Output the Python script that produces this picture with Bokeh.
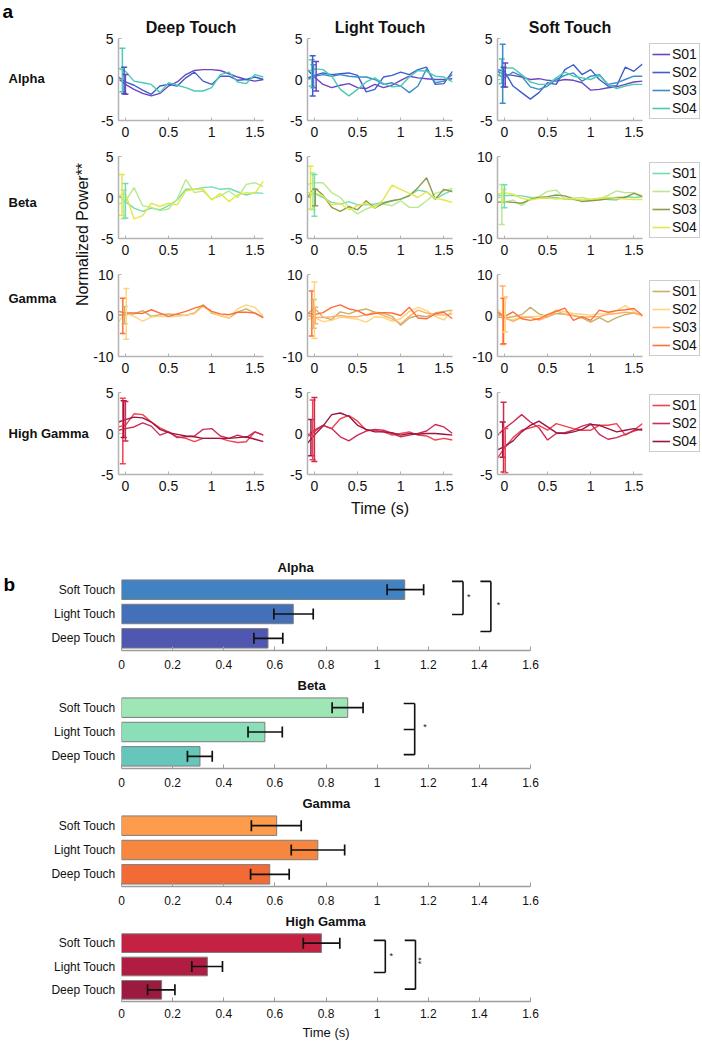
import math
from bokeh.plotting import figure
from bokeh.models import (Range1d, FixedTicker, NumeralTickFormatter, Label, Legend,
                          LegendItem, Whisker, TeeHead, ColumnDataSource)
from bokeh.layouts import row, column
from bokeh.core.properties import value
from bokeh.embed import file_html
from bokeh.resources import INLINE

# ---------------- data: panel a (normalized power traces) ----------------
T = [-0.08, 0.0, 0.1, 0.2, 0.3, 0.4, 0.5, 0.6, 0.7, 0.8, 0.9, 1.0, 1.1, 1.2, 1.3, 1.4, 1.5, 1.6]
x_ticks = [0, 0.5, 1, 1.5]

# Alpha
a_deep_s01 = [0.1, -0.6, -1.2, -1.7, -2.0, -1.7, -0.8, -0.3, 0.6, 1.1, 1.2, 1.2, 1.1, 0.7, 0.3, 0.0, -0.2, 0.0]
a_deep_s02 = [0.3, -0.3, -0.7, -1.3, -1.8, -0.8, -0.6, -0.8, 0.2, 0.9, -0.2, -0.6, 0.4, 0.4, -0.1, 0.0, 0.3, 0.0]
a_deep_s04 = [1.4, 1.0, -0.2, -0.4, -0.6, -1.6, -0.4, -0.7, -1.0, -1.4, -1.4, -1.0, 0.6, 0.9, -0.3, -0.5, 0.6, 0.3]
a_deep_err = [("S04", -0.035, -1.5, 3.8), ("S02", -0.015, -1.7, 1.5), ("S01", 0.0, -1.8, 0.6)]

a_light_s01 = [1.2, 0.3, -0.6, -1.0, -0.7, -0.5, -1.0, -1.1, -0.6, -1.0, -0.7, -0.1, 0.4, 0.2, 0.1, 0.0, 0.0, 0.1]
a_light_s02 = [0.2, 0.5, 0.8, 0.6, 0.7, 0.8, 0.5, -1.5, -1.2, 0.3, 0.5, 0.9, 0.6, 1.2, 1.5, -0.6, -0.5, 1.0]
a_light_s03 = [0.0, 0.4, 0.6, 0.4, 0.6, 0.4, 0.3, 0.3, 0.0, -0.6, -0.4, -0.8, -1.6, -0.8, 1.3, -0.4, -0.2, 0.6]
a_light_s04 = [1.0, 1.3, 1.2, 0.4, -1.2, -2.0, -1.2, -0.3, 0.2, -0.5, -0.9, -0.8, 0.3, 1.1, 1.0, 0.4, 0.3, -0.3]
a_light_err = [("S04", -0.03, -0.8, 2.4), ("S02", -0.02, -2.0, 2.9), ("S03", -0.01, -1.0, 1.8), ("S01", 0.02, -1.4, 2.2)]

a_soft_s01 = [1.0, 0.6, 0.5, 0.3, 0.0, 0.1, -0.1, -0.2, 0.0, -0.1, -0.4, -1.3, -1.2, -1.0, -0.9, -0.6, -0.3, -0.2]
a_soft_s02 = [1.2, 1.0, -0.8, -1.6, -2.4, -1.6, -0.4, -0.6, 1.2, 1.8, 0.6, 1.2, 0.0, -0.8, -0.8, 1.5, 1.0, 1.9]
a_soft_s03 = [0.6, 0.2, 0.9, 0.4, -0.9, -1.2, -0.8, 0.0, 0.5, 0.8, -0.2, 0.4, 0.6, -0.6, -0.4, 0.0, 0.4, 0.4]
a_soft_s04 = [0.4, 1.4, 1.4, 0.6, -0.3, -0.6, -0.6, 0.2, 0.9, 0.4, 0.2, 0.0, 0.5, -0.6, -1.1, -0.8, -0.6, -0.6]
a_soft_err = [("S04", -0.03, -0.5, 2.5), ("S03", -0.02, -2.9, 4.3), ("S02", -0.01, -0.9, 1.5), ("S01", 0.01, -0.9, 2.0)]

# Beta
b_deep_s01 = [0.3, -0.5, -1.3, -1.7, -1.3, -1.5, -1.0, -0.3, 1.0, 1.0, 1.2, 1.3, 1.0, 1.1, 0.7, 0.3, 0.6, 0.5]
b_deep_s02 = [-0.8, -0.5, 1.2, -1.0, -1.2, -1.6, -1.4, -0.2, 2.2, 0.6, 0.8, -0.2, 0.2, 0.8, 0.0, 1.6, 1.8, 1.3]
b_deep_s04 = [0.2, 0.5, -2.6, -2.2, -0.7, -1.1, -0.7, -0.9, 0.8, 1.0, 1.0, -0.3, 0.5, -0.5, 0.3, 0.6, 0.5, 2.0]
b_deep_err = [("S04", -0.04, -2.2, 2.8), ("S02", -0.02, -2.6, 0.9), ("S01", 0.0, -2.5, 1.7)]

b_light_s01 = [0.0, 0.5, 0.0, -0.6, -0.8, -0.5, -0.9, -0.9, -0.8, -0.6, -0.4, -0.2, 0.3, 0.9, 0.7, -0.2, 0.4, 0.9]
b_light_s02 = [1.6, 1.8, 1.8, 0.6, 0.0, -1.2, -2.0, -1.4, -1.0, -0.8, -1.0, -0.4, -1.2, -1.2, -0.4, 0.5, 0.8, 1.1]
b_light_s03 = [0.0, 1.2, 0.3, -1.2, -1.7, -1.1, -1.5, -0.4, -1.3, -0.7, -0.4, -0.2, 0.2, 1.2, 2.4, -0.2, 1.0, 0.7]
b_light_s04 = [0.6, 0.6, 0.2, -0.9, -0.7, -1.5, -1.0, -0.7, -1.3, -0.2, 1.5, 1.0, 0.5, 0.0, 0.7, -0.1, -0.3, -0.6]
b_light_err = [("S04", -0.045, -1.4, 3.8), ("S02", -0.02, -1.5, 3.0), ("S01", 0.0, -2.3, 2.8), ("S03", 0.01, -1.0, 1.0)]

b_soft_s01 = [0.5, 0.5, 0.5, 0.4, 0.0, 0.0, -0.2, 0.0, -0.4, -0.5, -0.8, -0.6, -0.2, -0.5, -0.6, 0.2, 0.0, 0.2]
b_soft_s02 = [-1.0, -1.2, -0.6, -2.0, -0.3, 0.2, 1.5, 1.8, -0.3, -0.2, 0.0, -0.5, -0.4, 0.5, 1.6, 1.2, 1.2, 0.4]
b_soft_s03 = [-1.2, -1.0, -1.2, -1.4, -0.5, 0.0, 0.2, 0.6, 0.4, -0.3, -1.0, -0.8, -0.6, -0.3, 0.0, 0.0, 1.0, 0.2]
b_soft_s04 = [0.8, 1.2, 0.8, -0.2, -0.6, -0.2, -0.1, -0.4, -0.2, -0.3, -0.6, -0.4, -0.2, 0.0, -0.2, -0.4, -0.5, -0.5]
b_soft_err = [("S02", -0.03, -6.6, 3.2), ("S04", -0.01, -1.0, 2.0), ("S01", 0.0, -2.5, 3.1)]

# Gamma
g_deep_s01 = [0.2, 0.2, 0.4, 1.2, -0.2, 0.2, 0.4, 0.2, 0.0, 0.6, 2.6, 0.6, 0.0, -0.6, 0.8, 1.6, 0.6, -0.4]
g_deep_s02 = [-1.5, 0.6, -0.2, -1.4, -0.4, -0.2, -0.3, -0.2, 0.1, 0.4, 2.2, 0.8, 0.0, -0.6, 1.6, 2.6, 2.0, -0.2]
g_deep_s04 = [1.0, 0.6, 0.6, 0.5, 1.4, 0.6, -0.2, 0.4, 1.0, 1.8, 2.4, 1.0, 0.4, 0.2, 0.8, 0.8, 0.6, -0.6]
g_deep_err = [("S04", -0.03, -4.4, 4.2), ("S01", -0.01, -2.0, 2.2), ("S02", 0.01, -5.8, 6.6)]

g_light_s01 = [0.5, 1.8, -0.4, -1.0, 0.9, 0.4, 1.2, 1.6, 0.8, 0.6, -0.2, -2.4, -0.6, 0.0, -0.3, 0.6, 1.0, 1.3]
g_light_s02 = [-1.0, -0.5, -1.5, -1.2, -0.4, -0.6, -0.9, -1.6, -0.3, -0.5, -1.4, -0.8, 1.0, 2.0, 1.2, -0.2, -1.1, 1.3]
g_light_s03 = [0.0, -0.5, -0.5, -0.3, 0.0, -0.3, -0.3, 0.2, 0.8, 0.0, -0.8, -2.0, -0.2, 1.3, 0.6, 0.2, 0.1, 0.4]
g_light_s04 = [0.6, 0.2, 0.7, 2.0, 2.6, 1.6, 1.2, 0.1, 0.5, 0.7, 0.6, 0.0, 2.0, -0.6, -0.8, 0.4, 0.8, -0.8]
g_light_err = [("S04", -0.03, -5.0, 6.0), ("S01", -0.01, -3.1, 3.9), ("S02", 0.0, -5.6, 8.2), ("S03", 0.01, -2.0, 2.0)]

g_soft_s01 = [-0.3, -0.6, -0.3, 0.2, 2.0, 0.4, -0.3, 0.5, 0.3, 0.0, -0.6, -1.6, -0.5, -1.6, -0.5, 0.2, 0.6, 0.0]
g_soft_s02 = [1.7, -0.8, -1.0, -0.3, -0.3, -0.2, 0.2, 1.3, 0.9, 0.5, 0.3, 0.1, 0.4, 0.4, 1.2, 2.4, 1.0, -0.3]
g_soft_s03 = [0.5, -0.6, -1.4, -0.5, -0.4, -1.1, -0.4, 1.2, 0.3, 0.0, -0.4, -0.3, -0.3, 0.3, 0.5, 0.8, 0.6, 0.1]
g_soft_s04 = [0.9, -0.3, 0.9, -0.8, -1.2, -0.8, 0.2, 1.0, 1.8, -1.2, -0.3, -1.2, 1.3, 0.8, 1.2, 1.4, 1.7, 0.0]
g_soft_err = [("S03", -0.02, -7.1, 7.2), ("S04", -0.01, -6.9, 4.2), ("S02", 0.01, -4.0, 4.6)]

# High Gamma
h_deep_s01 = [0.8, 1.0, 2.4, 2.3, 1.4, 0.7, 0.2, -0.4, -0.6, -1.0, -0.6, -0.6, -0.6, -0.9, -1.1, -1.0, 0.2, -0.2]
h_deep_s02 = [0.4, 0.6, 0.8, 1.3, 0.9, -0.2, 0.2, -0.5, -0.4, -0.3, 0.5, 0.6, -0.3, -0.6, -0.2, -0.5, 0.2, -0.2]
h_deep_s04 = [1.4, 1.7, 2.0, 1.9, 1.4, 0.5, 0.1, -0.1, -0.3, -0.4, -0.6, -0.6, -0.6, -0.6, -0.5, -0.4, -0.7, -1.0]
h_deep_err = [("S01", -0.03, -3.7, 4.3), ("S04", -0.02, -0.5, 4.0), ("S02", 0.0, -0.9, 3.9)]

h_light_s01 = [-0.4, 0.2, 1.0, 0.6, 1.8, 2.2, 1.5, 0.4, 0.4, 0.2, -0.2, 0.0, 0.2, -0.2, -0.3, -0.8, -0.6, -0.8]
h_light_s02 = [-0.2, 0.4, 1.0, 0.6, -0.4, -0.9, -0.2, 0.3, 0.5, 0.4, 0.0, -0.4, -0.2, 0.0, 0.3, 1.1, 0.8, 0.0]
h_light_s04 = [-1.2, -0.2, 0.9, 2.3, 2.5, 2.1, 1.0, 0.5, 0.2, 0.2, 0.1, -0.2, 0.0, -0.1, 0.0, 0.0, -0.1, -0.2]
h_light_err = [("S04", -0.04, -2.7, 1.7), ("S01", -0.02, -3.2, 4.1), ("S02", 0.0, -3.4, 4.4)]

h_soft_s01 = [-3.0, -1.8, -0.5, 0.4, 0.7, 1.0, 0.4, 1.2, 0.9, 0.6, 0.4, 0.4, 1.0, 1.0, 1.2, -0.2, 0.4, 1.2]
h_soft_s02 = [-0.2, 0.6, 1.4, 2.3, 1.4, 0.7, -0.8, 0.0, 0.1, 0.4, 0.9, 1.2, -0.1, -0.7, -0.5, -0.1, 0.3, 0.6]
h_soft_s04 = [-2.0, -1.6, -0.9, 0.2, 1.0, 1.5, 0.8, 0.1, 0.0, 0.2, 0.5, 1.1, 1.0, 0.6, 0.2, 0.4, 0.6, 0.4]
h_soft_err = [("S04", -0.02, -2.9, 1.4), ("S02", -0.01, -4.7, 3.8), ("S01", 0.01, -4.8, 0.6)]

band_names = ["Alpha", "Beta", "Gamma", "High Gamma"]
touch_names = ["Deep Touch", "Light Touch", "Soft Touch"]
band_subjects = [["S01", "S02", "S03", "S04"], ["S01", "S02", "S03", "S04"],
                 ["S01", "S02", "S03", "S04"], ["S01", "S02", "S04"]]
ylim_grid = [[5, 5, 5], [5, 5, 10], [10, 10, 10], [5, 5, 5]]

alpha_colors = {"S01": "#6B45C3", "S02": "#3D5EC8", "S03": "#3B8DC8", "S04": "#4BCAB6"}
beta_colors = {"S01": "#74DDB0", "S02": "#B7EA8E", "S03": "#8E9B4E", "S04": "#E4E846"}
gamma_colors = {"S01": "#C9AE6A", "S02": "#FFD47C", "S03": "#FFAF69", "S04": "#FF6E38"}
hg_colors = {"S01": "#F2424B", "S02": "#CC2B55", "S04": "#9B1442"}
line_colors = [alpha_colors, beta_colors, gamma_colors, hg_colors]

panels = [
    [({"S01": a_deep_s01, "S02": a_deep_s02, "S04": a_deep_s04}, a_deep_err),
     ({"S01": a_light_s01, "S02": a_light_s02, "S03": a_light_s03, "S04": a_light_s04}, a_light_err),
     ({"S01": a_soft_s01, "S02": a_soft_s02, "S03": a_soft_s03, "S04": a_soft_s04}, a_soft_err)],
    [({"S01": b_deep_s01, "S02": b_deep_s02, "S04": b_deep_s04}, b_deep_err),
     ({"S01": b_light_s01, "S02": b_light_s02, "S03": b_light_s03, "S04": b_light_s04}, b_light_err),
     ({"S01": b_soft_s01, "S02": b_soft_s02, "S03": b_soft_s03, "S04": b_soft_s04}, b_soft_err)],
    [({"S01": g_deep_s01, "S02": g_deep_s02, "S04": g_deep_s04}, g_deep_err),
     ({"S01": g_light_s01, "S02": g_light_s02, "S03": g_light_s03, "S04": g_light_s04}, g_light_err),
     ({"S01": g_soft_s01, "S02": g_soft_s02, "S03": g_soft_s03, "S04": g_soft_s04}, g_soft_err)],
    [({"S01": h_deep_s01, "S02": h_deep_s02, "S04": h_deep_s04}, h_deep_err),
     ({"S01": h_light_s01, "S02": h_light_s02, "S04": h_light_s04}, h_light_err),
     ({"S01": h_soft_s01, "S02": h_soft_s02, "S04": h_soft_s04}, h_soft_err)],
]

# ---------------- data: panel b (latency bars) ----------------
bar_categories = ["Deep Touch", "Light Touch", "Soft Touch"]
bar_ticks = [0, 0.2, 0.4, 0.6, 0.8, 1.0, 1.2, 1.4, 1.6]

alpha_mean = [0.573, 0.672, 1.108]
alpha_lo = [0.518, 0.596, 1.039]
alpha_hi = [0.631, 0.750, 1.182]
beta_mean = [0.307, 0.561, 0.885]
beta_lo = [0.258, 0.495, 0.824]
beta_hi = [0.355, 0.629, 0.945]
gamma_mean = [0.580, 0.768, 0.607]
gamma_lo = [0.505, 0.664, 0.508]
gamma_hi = [0.656, 0.873, 0.703]
hg_mean = [0.157, 0.336, 0.782]
hg_lo = [0.102, 0.275, 0.711]
hg_hi = [0.209, 0.395, 0.854]

alpha_bar_colors = ["#5057B0", "#4470B9", "#4182C2"]
beta_bar_colors = ["#66C6BB", "#8ADFB9", "#9EE6B5"]
gamma_bar_colors = ["#F26B36", "#F7863F", "#FD9C4C"]
hg_bar_colors = ["#9C1A3F", "#B11C42", "#C52142"]

# significance brackets: x left, x right, y top, y bottom, y middle (or None)
alpha_brackets = [(1.293, 1.336, 2.34, 0.98, None), (1.404, 1.445, 2.34, 0.28, None)]
alpha_stars = [(1.352, 1.71, "*", 0.0), (1.468, 1.38, "*", 0.0)]
beta_brackets = [(1.104, 1.147, 2.17, 0.07, 1.10)]
beta_stars = [(1.18, 1.22, "*", 0.0)]
gamma_brackets = []
gamma_stars = []
hg_brackets = [(0.987, 1.032, 2.12, 0.74, None), (1.108, 1.150, 2.12, 0.03, None)]
hg_stars = [(1.048, 1.47, "*", 0.0), (1.172, 1.10, "**", math.pi / 2)]

# ---------------- styling ----------------
FONT = "Liberation Sans"
AX = "#b3b3b3"
TXT = "#111111"
PAGE_W = 700

FW, FH = 145, 82
left_b = [28, 41, 42]
right_b = [3, 3, 3]
LEFT_W = 90
LEG_W = PAGE_W - LEFT_W - sum(left_b) - sum(right_b) - 3 * FW
row_top = [38, 10, 10, 10]
row_bot = [26, 26, 26, 81]
legend_offset = [1, 0, 0, 22]


def style_axis(ax, size="14px"):
    ax.axis_line_color = AX
    ax.axis_line_width = 1.5
    ax.major_tick_line_color = AX
    ax.major_tick_in = 3
    ax.major_tick_out = 0
    ax.minor_tick_line_color = None
    ax.major_label_text_font = FONT
    ax.major_label_text_font_size = size
    ax.major_label_text_color = TXT
    ax.major_label_standoff = 5


def line_panel(r, c):
    series, errs = panels[r][c]
    ylim = ylim_grid[r][c]
    tb, bb = row_top[r], row_bot[r]
    p = figure(width=left_b[c] + FW + right_b[c], height=tb + FH + bb,
               x_range=Range1d(-0.08, 1.6), y_range=Range1d(-ylim, ylim),
               min_border_left=left_b[c], min_border_right=right_b[c],
               min_border_top=tb, min_border_bottom=bb,
               output_backend="svg", toolbar_location=None)
    p.outline_line_color = None
    p.grid.visible = False
    p.xaxis.ticker = FixedTicker(ticks=x_ticks)
    p.yaxis.ticker = FixedTicker(ticks=[-ylim, 0, ylim])
    for ax in (p.xaxis[0], p.yaxis[0]):
        ax.formatter = NumeralTickFormatter(format="0.[0]")
        style_axis(ax)
    p.xaxis.major_label_standoff = 6
    cols = line_colors[r]
    for subj, vals in series.items():
        p.line(T, vals, line_color=cols[subj], line_width=1.4)
    for subj, ex, lo, hi in errs:
        src = ColumnDataSource(dict(x=[ex], lo=[lo], hi=[hi]))
        w = Whisker(source=src, base="x", lower="lo", upper="hi", dimension="height",
                    line_color=cols[subj], line_width=1.5, level="glyph",
                    lower_head=TeeHead(size=6, line_color=cols[subj], line_width=1.5),
                    upper_head=TeeHead(size=6, line_color=cols[subj], line_width=1.5))
        p.add_layout(w)
    if r == 0:
        p.title.text = touch_names[c]
        p.title.align = "center"
        p.title.text_font = FONT
        p.title.text_font_size = "16px"
        p.title.text_font_style = "bold"
        p.title.text_color = TXT
        p.title.standoff = 5
    if r == 3 and c == 1:
        p.xaxis.axis_label = "Time (s)"
        p.xaxis.axis_label_text_font = FONT
        p.xaxis.axis_label_text_font_size = "16px"
        p.xaxis.axis_label_text_font_style = "normal"
        p.xaxis.axis_label_text_color = TXT
        p.xaxis.axis_label_standoff = 6
    return p


def legend_panel(r):
    h = row_top[r] + FH + row_bot[r]
    p = figure(width=LEG_W, height=h, x_range=Range1d(0, 1), y_range=Range1d(0, 1),
               min_border=0, x_axis_location=None, y_axis_location=None,
               output_backend="svg", toolbar_location=None)
    p.outline_line_color = None
    p.grid.visible = False
    cols = line_colors[r]
    items = []
    for s in band_subjects[r]:
        # legend proxy: a line with no drawable points
        rr = p.line(x=[float("nan")], y=[float("nan")], line_color=cols[s], line_width=1.6)
        items.append(LegendItem(label=s, renderers=[rr]))
    lg = Legend(items=items, location=(4, legend_offset[r]),
                label_text_font=FONT, label_text_font_size="14px", label_text_color=TXT,
                glyph_width=18, glyph_height=16, label_height=16, label_standoff=2,
                spacing=2, padding=2, margin=0,
                border_line_color="#9a9a9a", border_line_width=1,
                background_fill_color="white", background_fill_alpha=1)
    p.add_layout(lg)
    return p


TOP_H = sum(row_top) + sum(row_bot) + 4 * FH
left_fig = figure(width=LEFT_W, height=TOP_H, x_range=Range1d(0, LEFT_W), y_range=Range1d(TOP_H, 0),
                  min_border=0, x_axis_location=None, y_axis_location=None,
                  output_backend="svg", toolbar_location=None)
left_fig.outline_line_color = None
left_fig.grid.visible = False
left_fig.add_layout(Label(x=2, y=0, text="a", text_baseline="top", text_align="left",
                          text_font=FONT, text_font_size="19px", text_font_style="bold",
                          text_color="black"))
row_label_y = [78, 202, 298, 433]
for name, yy in zip(band_names, row_label_y):
    left_fig.add_layout(Label(x=8, y=yy, text=name, text_baseline="middle", text_align="left",
                              text_font=FONT, text_font_size="13px", text_font_style="bold",
                              text_color=TXT))
left_fig.add_layout(Label(x=82, y=234, text="Normalized Power**", angle=math.pi / 2,
                          text_baseline="middle", text_align="center",
                          text_font=FONT, text_font_size="16px", text_color=TXT))

grid_rows = [row(*([line_panel(r, c) for c in range(3)] + [legend_panel(r)])) for r in range(4)]
top = row(left_fig, column(*grid_rows))

# ---------------- bar panels ----------------
BAR_FL, BAR_FW, BAR_FH, BAR_TB = 121, 409, 73, 22
BAR_R = PAGE_W - BAR_FL - BAR_FW


def bar_panel(title, title_left, means, lo, hi, colors, brackets, stars, lb, width, last=False):
    bb = 38 if last else 23
    p = figure(width=width, height=BAR_TB + BAR_FH + bb,
               x_range=Range1d(0, 1.6), y_range=Range1d(-0.5, 2.5),
               min_border_left=lb, min_border_right=BAR_R,
               min_border_top=BAR_TB, min_border_bottom=bb,
               output_backend="svg", toolbar_location=None)
    p.outline_line_color = None
    p.grid.visible = False
    src = ColumnDataSource(dict(y=list(range(len(bar_categories))), right=means, lo=lo, hi=hi,
                                color=colors))
    p.hbar(y="y", left=0, right="right", height=0.8, fill_color="color", line_color="#7d7d7d",
           line_width=1, source=src)
    w = Whisker(source=src, base="y", lower="lo", upper="hi", dimension="width",
                line_color="#111111", line_width=1.7, level="glyph",
                lower_head=TeeHead(size=11, line_color="#111111", line_width=1.7),
                upper_head=TeeHead(size=11, line_color="#111111", line_width=1.7))
    p.add_layout(w)
    for xl, xr, yt, yb, ym in brackets:
        p.segment(x0=[xl, xl, xr], y0=[yt, yb, yt], x1=[xr, xr, xr], y1=[yt, yb, yb],
                  line_color="#111111", line_width=1.6)
        if ym is not None:
            p.segment(x0=[xl], y0=[ym], x1=[xr], y1=[ym], line_color="#111111", line_width=1.6)
    if stars:
        ssrc = ColumnDataSource(dict(x=[s[0] for s in stars], y=[s[1] for s in stars],
                                     t=[s[2] for s in stars], a=[s[3] for s in stars]))
        p.text(x="x", y="y", text="t", angle="a", source=ssrc, text_font=value(FONT),
               text_font_size="9px", text_align="left", text_baseline="middle",
               text_color="#111111")
    xa = p.xaxis[0]
    xa.ticker = FixedTicker(ticks=bar_ticks)
    xa.formatter = NumeralTickFormatter(format="0.[0]")
    style_axis(xa, size="12px")
    xa.axis_line_color = "#9c9c9c"
    xa.major_tick_line_color = "#9c9c9c"
    xa.axis_line_width = 1.3
    xa.major_tick_in = 4
    xa.major_label_standoff = 9
    ya = p.yaxis[0]
    ya.ticker = FixedTicker(ticks=list(range(len(bar_categories))))
    ya.major_label_overrides = {i: c for i, c in enumerate(bar_categories)}
    ya.axis_line_color = None
    ya.major_tick_line_color = None
    ya.major_tick_in = 0
    ya.major_tick_out = 0
    ya.minor_tick_line_color = None
    ya.major_label_text_font = FONT
    ya.major_label_text_font_size = "12px"
    ya.major_label_text_color = TXT
    ya.major_label_standoff = 6
    p.title.text = title
    p.title.align = "left"
    p.title.offset = title_left
    p.title.text_font = FONT
    p.title.text_font_size = "13px"
    p.title.text_font_style = "bold"
    p.title.text_color = TXT
    p.title.standoff = 5
    if last:
        xa.axis_label = "Time (s)"
        xa.axis_label_text_font = FONT
        xa.axis_label_text_font_size = "13px"
        xa.axis_label_text_font_style = "normal"
        xa.axis_label_text_color = TXT
        xa.axis_label_standoff = 4
        xa.major_label_standoff = 7
    return p


BFIG_W = 40
bfig = figure(width=BFIG_W, height=BAR_TB + BAR_FH + 23, x_range=Range1d(0, BFIG_W),
              y_range=Range1d(BAR_TB + BAR_FH + 23, 0), min_border=0,
              x_axis_location=None, y_axis_location=None,
              output_backend="svg", toolbar_location=None)
bfig.outline_line_color = None
bfig.grid.visible = False
bfig.add_layout(Label(x=3, y=11, text="b", text_baseline="middle", text_align="left",
                      text_font=FONT, text_font_size="19px", text_font_style="bold",
                      text_color="black"))

b1 = bar_panel("Alpha", 156, alpha_mean, alpha_lo, alpha_hi, alpha_bar_colors,
               alpha_brackets, alpha_stars, BAR_FL - BFIG_W, PAGE_W - BFIG_W)
b2 = bar_panel("Beta", 176, beta_mean, beta_lo, beta_hi, beta_bar_colors,
               beta_brackets, beta_stars, BAR_FL, PAGE_W)
b3 = bar_panel("Gamma", 181, gamma_mean, gamma_lo, gamma_hi, gamma_bar_colors,
               gamma_brackets, gamma_stars, BAR_FL, PAGE_W)
b4 = bar_panel("High Gamma", 164, hg_mean, hg_lo, hg_hi, hg_bar_colors,
               hg_brackets, hg_stars, BAR_FL, PAGE_W, last=True)

page = column(top, row(bfig, b1), b2, b3, b4)
open("out.html", "w").write(file_html(page, INLINE))
